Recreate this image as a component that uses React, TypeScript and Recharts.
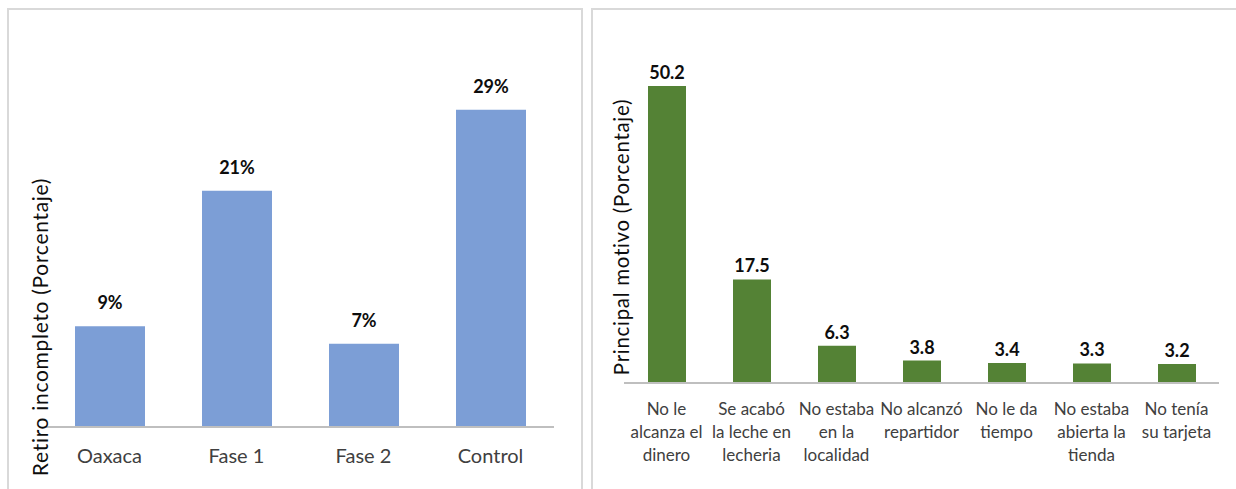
import React from 'react';
import { BarChart, Bar, XAxis, YAxis, LabelList } from 'recharts';

// Left chart: incomplete withdrawal by group
const grupos = ['Oaxaca', 'Fase 1', 'Fase 2', 'Control'];
const retiroValores = [9.2, 21.6, 7.6, 29.0];
const retiroEtiquetas = ['9%', '21%', '7%', '29%'];

// Right chart: main reason
const motivos = [
    'No le\nalcanza el\ndinero',
    'Se acabó\nla leche en\nlecheria',
    'No estaba\nen la\nlocalidad',
    'No alcanzó\nrepartidor',
    'No le da\ntiempo',
    'No estaba\nabierta la\ntienda',
    'No tenía\nsu tarjeta',
];
const motivoValores = [50.2, 17.5, 6.3, 3.8, 3.4, 3.3, 3.2];

const FONT = 'Lato, "DejaVu Sans", sans-serif';

const retiroData = grupos.map((g, i) => ({ name: g, value: retiroValores[i], label: retiroEtiquetas[i] }));
const motivoData = motivos.map((m, i) => ({ name: m, value: motivoValores[i], label: motivoValores[i].toFixed(1) }));

function MultiLineTick(props: any) {
    const { x, y, payload, fontSize, firstDy, lineHeight } = props;
    const lines = String(payload.value).split('\n');
    return (
        <text x={x} y={y} textAnchor="middle" fill="#404040" fontSize={fontSize} fontFamily={FONT}>
            {lines.map((l: string, i: number) => (
                <tspan key={i} x={x} y={y + firstDy + i * lineHeight}>{l}</tspan>
            ))}
        </text>
    );
}

const titleStyle = (cx: number, cy: number, size: number): React.CSSProperties => ({
    position: 'absolute',
    left: cx,
    top: cy,
    transform: 'translate(-50%, -50%) rotate(-90deg)',
    whiteSpace: 'nowrap',
    fontFamily: FONT,
    fontSize: size,
    color: '#0d0d0d',
    letterSpacing: 0.7,
});

export default function App() {
    return (
        <div style={{ position: 'absolute', left: 0, top: 0, width: 1236, height: 489, background: '#fff', overflow: 'hidden' }}>
            {/* panel frames */}
            <div style={{ position: 'absolute', left: 7, top: 8, width: 576, height: 500, border: '2px solid #d9d9d9', boxSizing: 'border-box' }} />
            <div style={{ position: 'absolute', left: 591, top: 8, width: 660, height: 500, border: '2px solid #d9d9d9', boxSizing: 'border-box' }} />

            <div style={{ position: 'absolute', left: 0, top: 0 }}>
                <BarChart width={582} height={489} data={retiroData} margin={{ top: 44, right: 28, bottom: 2, left: 46 }}>
                    <YAxis hide domain={[0, 35]} />
                    <XAxis
                        dataKey="name"
                        height={60}
                        axisLine={{ stroke: '#bfbfbf', strokeWidth: 2 }}
                        tickLine={false}
                        tickSize={0}
                        tickMargin={0}
                        interval={0}
                        tick={<MultiLineTick fontSize={20} firstDy={36} lineHeight={24} />}
                    />
                    <Bar dataKey="value" fill="#7c9ed6" barSize={70} isAnimationActive={false}>
                        <LabelList dataKey="label" position="top" offset={17} fill="#0d0d0d" fontSize={18} fontWeight="bold" fontFamily={FONT} />
                    </Bar>
                </BarChart>
            </div>
            <div style={titleStyle(39, 327, 21)}>Retiro incompleto (Porcentaje)</div>

            <div style={{ position: 'absolute', left: 590, top: 0 }}>
                <BarChart width={646} height={489} data={motivoData} margin={{ top: 28, right: 17, bottom: 2, left: 34 }}>
                    <YAxis hide domain={[0, 60]} />
                    <XAxis
                        dataKey="name"
                        height={104}
                        axisLine={{ stroke: '#bfbfbf', strokeWidth: 2 }}
                        tickLine={false}
                        tickSize={0}
                        tickMargin={0}
                        interval={0}
                        tick={<MultiLineTick fontSize={17} firstDy={32} lineHeight={23} />}
                    />
                    <Bar dataKey="value" fill="#548235" barSize={38} isAnimationActive={false}>
                        <LabelList dataKey="label" position="top" offset={7} fill="#0d0d0d" fontSize={18} fontWeight="bold" fontFamily={FONT} />
                    </Bar>
                </BarChart>
            </div>
            <div style={titleStyle(621, 237, 20.5)}>Principal motivo (Porcentaje)</div>
        </div>
    );
}
